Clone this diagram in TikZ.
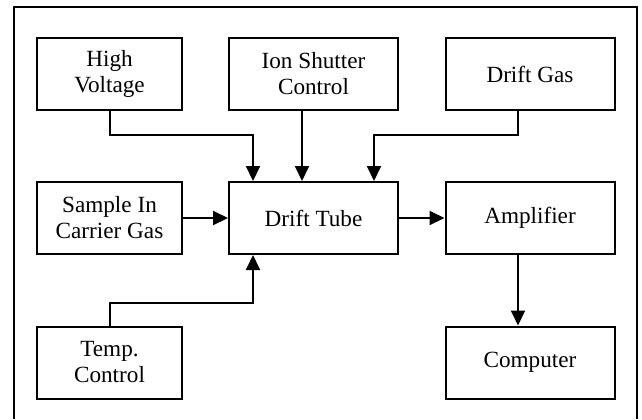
\documentclass[tikz,border=0pt]{standalone}
\usepackage{fontspec}
\setmainfont{Liberation Serif}
\usetikzlibrary{arrows.meta}

\begin{document}
\begin{tikzpicture}[x=0.5pt,y=-0.5pt,
    box/.style={draw,line width=1pt,align=center,minimum height=36pt,
        font=\fontsize{11.6}{13}\selectfont,inner sep=0pt},
    narrow/.style={box,minimum width=72.5pt},
    wide/.style={box,minimum width=84.5pt},
    flow/.style={line width=1pt,-{Triangle[length=7.5pt,width=7pt]}}]
\useasboundingbox (0,0) rectangle (642,419);
% frame
\draw[line width=1pt] (14,419) -- (14,7) -- (637,7) -- (637,419);

% top row
\node[narrow] (hv)  at (109.5,74) {High\\Voltage};
\node[wide]   (isc) at (313.5,74) {Ion Shutter\\Control};
\node[wide]   (gas) at (530,74)   {Drift Gas};

% middle row
\node[narrow] (smp) at (109.5,218) {Sample In\\Carrier Gas};
\node[wide]   (tube) at (313.5,218) {Drift Tube};
\node[wide]   (amp) at (530,218)   {Amplifier};

% bottom row
\node[narrow] (tmp)  at (109.5,362.5) {Temp.\\Control};
\node[wide]   (comp) at (530,362.5)   {Computer};

% connectors
\draw[flow] (hv.south) -- ++(0,24) -| ([xshift=12.5pt]tube.north west);
\draw[flow] ([xshift=-5.75pt]isc.south) -- ([xshift=-5.75pt]tube.north);
\draw[flow] ([xshift=-6pt]gas.south) -- ++(0,24) -| ([xshift=-12.5pt]tube.north east);
\draw[flow] (smp.east) -- (tube.west);
\draw[flow] (tmp.north) -- ++(0,-23) -| ([xshift=12.5pt]tube.south west);
\draw[flow] (tube.east) -- (amp.west);
\draw[flow] ([xshift=-6pt]amp.south) -- ([xshift=-6pt]comp.north);
\end{tikzpicture}
\end{document}
